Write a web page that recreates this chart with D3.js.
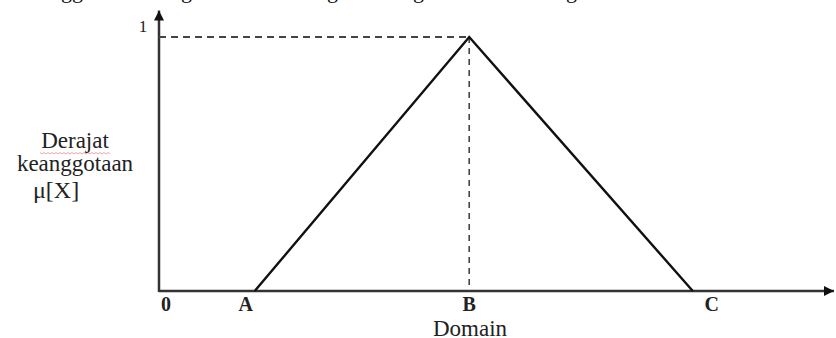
<!DOCTYPE html>
<html><head><meta charset="utf-8">
<script src="https://cdn.jsdelivr.net/npm/d3@7"></script>
<style>html,body{margin:0;padding:0;background:#fff;}svg{display:block;}</style>
</head><body>
<svg id="c" width="836" height="338"></svg>
<script>
// Data
const categories = ["0", "A", "B", "C"];
const domainValues = [0, 2, 6.48, 11.15];   // positions along the domain
const membership = [0, 0, 1, 0];            // μ at 0, A, B, C
const triangle = [{x: 2, y: 0}, {x: 6.48, y: 1}, {x: 11.15, y: 0}];
const yTickLabels = ["1"];
const xAxisMax = 14.1;
const yAxisMax = 1.1;
const yTitle = ["Derajat", "keanggotaan", "μ[X]"];
const xTitle = "Domain";
const topFragments = [{x: 61, t: "gg"}, {x: 181, t: "g"}, {x: 327, t: "g"}, {x: 413, t: "g"}, {x: 566, t: "g"}];

const svg = d3.select("#c");
const x = d3.scaleLinear().domain([0, xAxisMax]).range([159, 834]);
const y = d3.scaleLinear().domain([0, 1]).range([291, 37]);
const font = "'Liberation Serif','Times New Roman',serif";
const ink = "#222";

// cut-off text line from the page above
svg.append("g").selectAll("text").data(topFragments).join("text")
  .attr("x", d => d.x).attr("y", -2).attr("font-family", font).attr("font-size", 22)
  .attr("fill", "#111").text(d => d.t);

const defs = svg.append("defs");
defs.append("marker").attr("id", "arr").attr("viewBox", "0 0 10 10").attr("refX", 10).attr("refY", 5)
  .attr("markerWidth", 10).attr("markerHeight", 10).attr("markerUnits", "userSpaceOnUse").attr("orient", "auto")
  .append("path").attr("d", "M0,0L10,5L0,10Z").attr("fill", "#111");

// Axes
svg.append("line").attr("x1", x(0)).attr("y1", y(0)).attr("x2", x(xAxisMax)).attr("y2", y(0))
  .attr("stroke", "#333").attr("stroke-width", 2.5).attr("marker-end", "url(#arr)");
svg.append("line").attr("x1", x(0)).attr("y1", y(0) + 1).attr("x2", x(0)).attr("y2", y(yAxisMax) - 1)
  .attr("stroke", "#333").attr("stroke-width", 2.5).attr("marker-end", "url(#arr)");

// dashed guides to the peak
const peak = triangle[1];
svg.append("line").attr("x1", x(0)).attr("y1", y(peak.y)).attr("x2", x(peak.x)).attr("y2", y(peak.y))
  .attr("stroke", "#444").attr("stroke-width", 2).attr("stroke-dasharray", "7,5");
svg.append("line").attr("x1", x(peak.x)).attr("y1", y(peak.y)).attr("x2", x(peak.x)).attr("y2", y(0))
  .attr("stroke", "#444").attr("stroke-width", 1.6).attr("stroke-dasharray", "6,5");

// triangle membership function
svg.append("path").datum(triangle)
  .attr("d", d3.line().x(d => x(d.x)).y(d => y(d.y)))
  .attr("fill", "none").attr("stroke", "#111").attr("stroke-width", 2.4);

// x labels
const labelOffsets = [7, -9, 0, 19];
svg.append("g").selectAll("text").data(categories).join("text")
  .attr("x", (d, i) => x(domainValues[i]) + labelOffsets[i]).attr("y", 311)
  .attr("text-anchor", "middle").attr("font-family", font).attr("font-size", 20).attr("font-weight", "bold")
  .attr("fill", ink).text(d => d);

// y tick label
svg.append("text").attr("x", 143).attr("y", 32).attr("text-anchor", "middle")
  .attr("font-family", font).attr("font-size", 17).attr("fill", ink).text(yTickLabels[0]);

// titles
svg.append("text").attr("x", 470).attr("y", 336).attr("text-anchor", "middle")
  .attr("font-family", font).attr("font-size", 23).attr("fill", ink).text(xTitle);

const yt = svg.append("g").attr("font-family", font).attr("font-size", 23).attr("fill", ink);
yt.append("text").attr("x", 75).attr("y", 148).attr("text-anchor", "middle").text(yTitle[0]);
yt.append("text").attr("x", 75).attr("y", 171).attr("text-anchor", "middle").text(yTitle[1]);
yt.append("text").attr("x", 33).attr("y", 198).attr("text-anchor", "start").attr("font-size", 24).text(yTitle[2]);

// spell-check squiggle under "Derajat"
const sq = d3.range(40, 111, 2).map((v, i) => [v, 153 + (i % 2 ? 1 : -0.5)]);
svg.append("path").attr("d", d3.line()(sq)).attr("fill", "none").attr("stroke", "#e06060").attr("stroke-width", 0.8).attr("opacity", 0.7);
</script>
</body></html>
